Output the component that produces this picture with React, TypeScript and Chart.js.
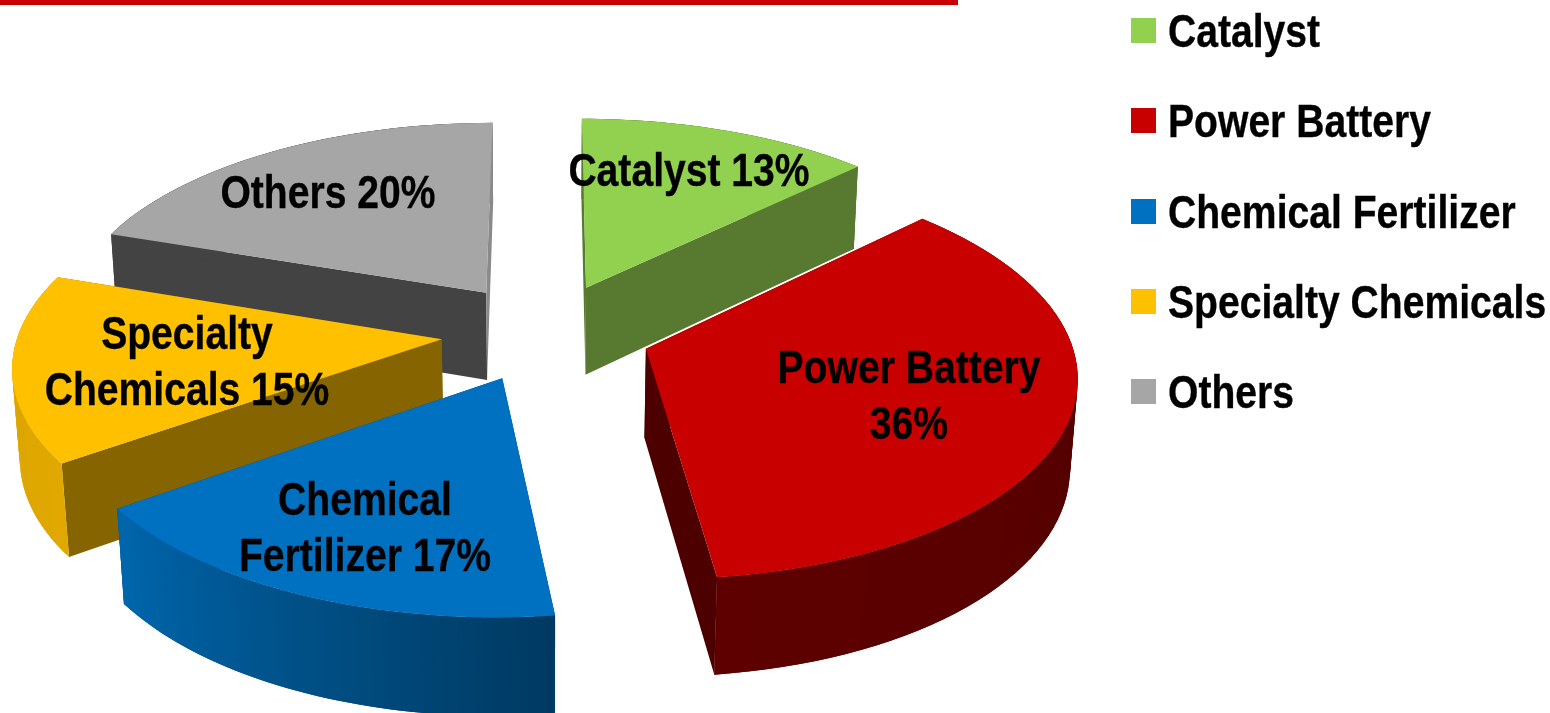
import React, { useEffect, useRef } from "react";
import { Chart, registerables } from "chart.js";

Chart.register(...registerables);

const categories = ["Catalyst", "Power Battery", "Chemical Fertilizer", "Specialty Chemicals", "Others"];
const shares = [12.8, 35.3, 17.1, 15.0, 19.8];
const sliceLabels = [["Catalyst 13%"], ["Power Battery", "36%"], ["Chemical", "Fertilizer 17%"], ["Specialty", "Chemicals 15%"], ["Others 20%"]];
const topColors = ["#92D050", "#C80000", "#0070C0", "#FFC000", "#A6A6A6"];

const style = {
  font: '"Liberation Sans", Arial, sans-serif',
  fontSize: 46,
  narrow: 0.85,
  lineGap: 56,
  explode: 105,
  planeR: 423,
  cx: 546,
  cy: 332,
  tilt: 0.47,
  persp: 0.00028,
  depth: 90,
  depthPersp: 0.00016,
  endRadial: ["#587A30", "#4D0000", "#00406C", "#866500", "#8A8A8A"],
  startRadial: ["#587A30", "#4D0000", "#00406C", "#866500", "#434343"],
  startWall: ["#587A30", "#4D0000", "#003A62", "#E0A800", "#434343"],
  endWall: ["#587A30", "#5E0000", "#0066AC", "#DAA500", "#8A8A8A"],
  wallEase: [1, 1, 1, 1, 10],
  order: [4, 0, 3, 2, 1],
  labelPos: [[689, 173], [909, 370], [365, 502], [187, 336], [328, 195]],
  legendBoxX: 1131,
  legendTextX: 1168,
  legendTop: 18,
  legendTextDy: 4,
  legendStep: 90.25,
  legendBox: 25,
};

function mix(a: string, b: string, t: number) {
  const ch = (h: string, i: number) => parseInt(h.slice(1 + i * 2, 3 + i * 2), 16);
  const out = [0, 1, 2].map((i) => Math.round(ch(a, i) + (ch(b, i) - ch(a, i)) * t));
  return `rgb(${out[0]},${out[1]},${out[2]})`;
}

function project(u: number, v: number, z: number) {
  const s = 1 / (1 - style.persp * v + style.depthPersp * z);
  return [style.cx + u * s, style.cy + (style.tilt * v + z) * s];
}

function fillPoly(ctx: CanvasRenderingContext2D, pts: number[][], color: string) {
  ctx.beginPath();
  pts.forEach((p, i) => (i ? ctx.lineTo(p[0], p[1]) : ctx.moveTo(p[0], p[1])));
  ctx.closePath();
  ctx.fillStyle = color;
  ctx.fill();
}

function narrowText(ctx: CanvasRenderingContext2D, text: string, x: number, y: number) {
  ctx.save();
  ctx.translate(x, y);
  ctx.scale(style.narrow, 1);
  ctx.strokeStyle = "#000";
  ctx.lineWidth = 0.35;
  ctx.fillText(text, 0, 0);
  ctx.strokeText(text, 0, 0);
  ctx.restore();
}

const perspectivePie = {
  id: "perspectivePie",
  beforeDraw(chart: any) {
    const ctx = chart.ctx;
    ctx.save();
    ctx.fillStyle = "#C80000";
    ctx.fillRect(0, 0, 958, 5);
    ctx.restore();
  },
  beforeDatasetDraw(chart: any) {
    const ctx: CanvasRenderingContext2D = chart.ctx;
    const arcs = chart.getDatasetMeta(0).data;
    ctx.save();
    for (const idx of style.order) {
      const arc = arcs[idx];
      const mid = (arc.startAngle + arc.endAngle) / 2;
      const off = arc.options.offset as number;
      const ou = Math.cos(mid) * off;
      const ov = Math.sin(mid) * off;
      const r = style.planeR;
      const n = 60;
      const rim = (i: number, z: number) => {
        const a = arc.startAngle + ((arc.endAngle - arc.startAngle) * Math.min(i, n)) / n;
        return project(ou + Math.cos(a) * r, ov + Math.sin(a) * r, z);
      };
      const apexTop = project(ou, ov, 0);
      const apexBot = project(ou, ov, style.depth);
      fillPoly(ctx, [apexTop, rim(0, 0), rim(0, style.depth), apexBot], style.startRadial[idx]);
      fillPoly(ctx, [apexTop, rim(n, 0), rim(n, style.depth), apexBot], style.endRadial[idx]);
      for (let i = 0; i < n; i++) {
        fillPoly(
          ctx,
          [rim(i, 0), rim(i + 2, 0), rim(i + 2, style.depth), rim(i, style.depth)],
          mix(style.startWall[idx], style.endWall[idx], Math.pow(i / (n - 1), style.wallEase[idx])),
        );
      }
      const top = [apexTop];
      for (let i = 0; i <= n; i++) top.push(rim(i, 0));
      fillPoly(ctx, top, topColors[idx]);
    }
    ctx.restore();
    return false;
  },
  afterDatasetsDraw(chart: any) {
    const ctx: CanvasRenderingContext2D = chart.ctx;
    ctx.save();
    ctx.fillStyle = "#000";
    ctx.textBaseline = "middle";
    ctx.font = `bold ${style.fontSize}px ${style.font}`;
    ctx.textAlign = "center";
    sliceLabels.forEach((lines, i) => {
      lines.forEach((line, j) => {
        narrowText(ctx, line, style.labelPos[i][0], style.labelPos[i][1] + j * style.lineGap);
      });
    });
    ctx.textAlign = "left";
    categories.forEach((name, i) => {
      const y = style.legendTop + i * style.legendStep;
      ctx.fillStyle = topColors[i];
      ctx.fillRect(style.legendBoxX, Math.round(y), style.legendBox, style.legendBox);
      ctx.fillStyle = "#000";
      narrowText(ctx, name, style.legendTextX, y + style.legendBox / 2 + style.legendTextDy);
    });
    ctx.restore();
  },
};

export default function App() {
  const ref = useRef<HTMLCanvasElement>(null);
  useEffect(() => {
    const chart = new Chart(ref.current!, {
      type: "pie",
      data: {
        labels: categories,
        datasets: [{ data: shares, backgroundColor: topColors, borderWidth: 0, offset: style.explode } as any],
      },
      options: {
        responsive: false,
        animation: false,
        rotation: 0,
        layout: { padding: 0 },
        plugins: {
          tooltip: { enabled: false },
          legend: { display: false },
        },
      },
      plugins: [perspectivePie],
    } as any);
    return () => chart.destroy();
  }, []);
  return (
    <div style={{ position: "fixed", left: 0, top: 0, width: 1550, height: 713, overflow: "hidden", background: "#fff" }}>
      <canvas ref={ref} width={1550} height={713} style={{ display: "block" }} />
    </div>
  );
}
